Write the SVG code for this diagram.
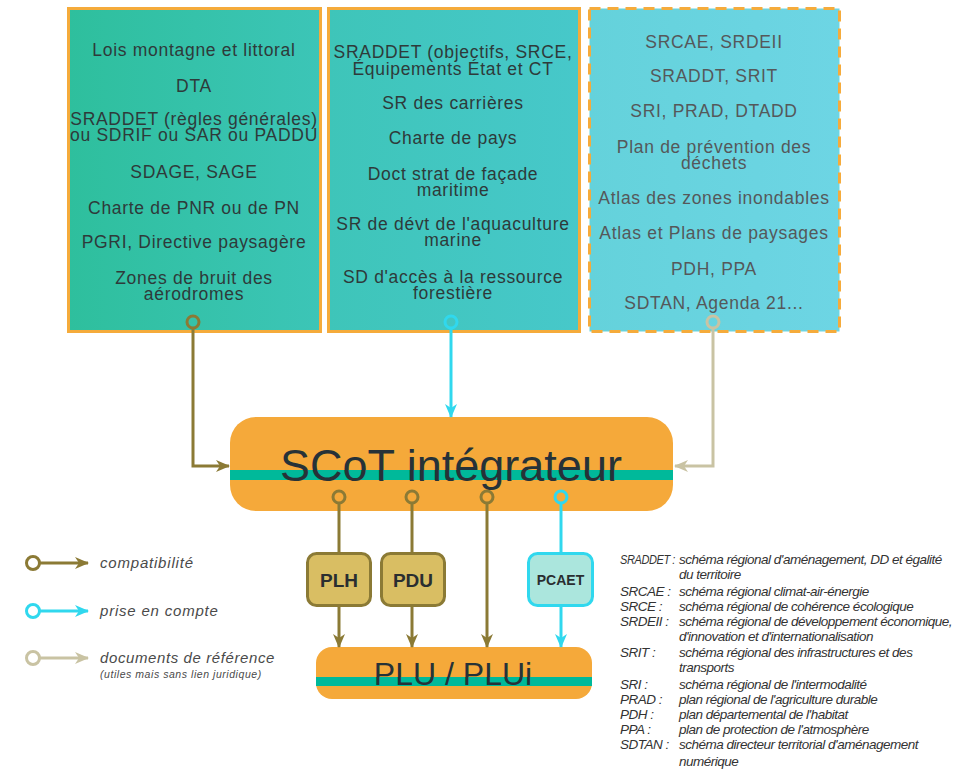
<svg xmlns="http://www.w3.org/2000/svg" width="967" height="777" viewBox="0 0 967 777">
<style>
.bt{font-family:"Liberation Sans",Arial,sans-serif;font-size:17.5px;letter-spacing:0.7px;fill:#2e3a3a;text-anchor:middle}
.bt3{fill:#55585a}
.big{font-family:"Liberation Sans",Arial,sans-serif;fill:#263238;text-anchor:middle}
.sb{font-family:"Liberation Sans",Arial,sans-serif;font-weight:bold;fill:#2a2e30;text-anchor:middle}
.leg{font-family:"Liberation Sans",Arial,sans-serif;font-style:italic;fill:#4a4a4a}
.ab{font-family:"Liberation Sans",Arial,sans-serif;font-style:italic;font-size:13.5px;fill:#333;letter-spacing:-0.5px}
.ol{stroke:#8b7a35}
.cy{stroke:#30d8ee}
.be{stroke:#c9c3a3}
.c{fill:none;stroke-width:3}
.ln{fill:none;stroke-width:3}
</style>
<defs>
<linearGradient id="g1" x1="0" y1="0" x2="1" y2="0"><stop offset="0" stop-color="#2ebf9d"/><stop offset="1" stop-color="#3cc5b7"/></linearGradient>
<linearGradient id="g2" x1="0" y1="0" x2="1" y2="0"><stop offset="0" stop-color="#3ec5b9"/><stop offset="1" stop-color="#47c8ca"/></linearGradient>
<linearGradient id="g3" x1="0" y1="0" x2="1" y2="0"><stop offset="0" stop-color="#64d2db"/><stop offset="1" stop-color="#6dd5e4"/></linearGradient>
<marker id="aO" viewBox="0 0 14 12" refX="13" refY="6" markerWidth="14" markerHeight="12" markerUnits="userSpaceOnUse" orient="auto"><path d="M0,0 L14,6 L0,12 L4,6 Z" fill="#8b7a35"/></marker>
<marker id="aC" viewBox="0 0 14 12" refX="13" refY="6" markerWidth="14" markerHeight="12" markerUnits="userSpaceOnUse" orient="auto"><path d="M0,0 L14,6 L0,12 L4,6 Z" fill="#30d8ee"/></marker>
<marker id="aB" viewBox="0 0 14 12" refX="13" refY="6" markerWidth="14" markerHeight="12" markerUnits="userSpaceOnUse" orient="auto"><path d="M0,0 L14,6 L0,12 L4,6 Z" fill="#c9c3a3"/></marker>
</defs>
<rect width="967" height="777" fill="#ffffff"/>

<g id="box-compatibilite">
<rect x="68.5" y="8.5" width="252" height="323" fill="url(#g1)" stroke="#f5ab3b" stroke-width="3"/>
<text class="bt" x="194" y="56">Lois montagne et littoral</text>
<text class="bt" x="194" y="92">DTA</text>
<text class="bt" x="194" y="125">SRADDET (règles générales)<tspan x="194" dy="16">ou SDRIF ou SAR ou PADDU</tspan></text>
<text class="bt" x="194" y="178">SDAGE, SAGE</text>
<text class="bt" x="194" y="214">Charte de PNR ou de PN</text>
<text class="bt" x="194" y="248">PGRI, Directive paysagère</text>
<text class="bt" x="194" y="284">Zones de bruit des<tspan x="194" dy="16">aérodromes</tspan></text>
</g>

<g id="box-prise-en-compte">
<rect x="328.5" y="8.5" width="251" height="323" fill="url(#g2)" stroke="#f5ab3b" stroke-width="3"/>
<text class="bt" x="453" y="58">SRADDET (objectifs, SRCE,<tspan x="453" dy="17">Équipements État et CT</tspan></text>
<text class="bt" x="453" y="109">SR des carrières</text>
<text class="bt" x="453" y="144">Charte de pays</text>
<text class="bt" x="453" y="180">Doct strat de façade<tspan x="453" dy="16">maritime</tspan></text>
<text class="bt" x="453" y="230">SR de dévt de l'aquaculture<tspan x="453" dy="16">marine</tspan></text>
<text class="bt" x="453" y="283">SD d'accès à la ressource<tspan x="453" dy="16">forestière</tspan></text>
</g>

<g id="box-reference">
<rect x="589.5" y="8.5" width="250" height="323" fill="url(#g3)" stroke="#f5ab3b" stroke-width="3" stroke-dasharray="11 7"/>
<text class="bt bt3" x="714" y="48">SRCAE, SRDEII</text>
<text class="bt bt3" x="714" y="82">SRADDT, SRIT</text>
<text class="bt bt3" x="714" y="117">SRI, PRAD, DTADD</text>
<text class="bt bt3" x="714" y="153">Plan de prévention des<tspan x="714" dy="16">déchets</tspan></text>
<text class="bt bt3" x="714" y="204">Atlas des zones inondables</text>
<text class="bt bt3" x="714" y="239">Atlas et Plans de paysages</text>
<text class="bt bt3" x="714" y="275">PDH, PPA</text>
<text class="bt bt3" x="714" y="309">SDTAN, Agenda 21...</text>
</g>

<g id="scot">
<rect x="230" y="417" width="443" height="94" rx="26" fill="#f5a93a"/>
<rect x="230" y="470" width="443" height="10" fill="#00b99a"/>
<text class="big" x="451" y="481" font-size="45">SCoT intégrateur</text>
</g>

<g id="plh">
<rect x="307.5" y="553.5" width="63" height="52" rx="9" fill="#d9be63" stroke="#8b7a35" stroke-width="3"/>
<text class="sb" x="339" y="587" font-size="19">PLH</text>
</g>
<g id="pdu">
<rect x="381.5" y="553.5" width="63" height="52" rx="9" fill="#d9be63" stroke="#8b7a35" stroke-width="3"/>
<text class="sb" x="413" y="587" font-size="19">PDU</text>
</g>
<g id="pcaet">
<rect x="528.5" y="553.5" width="64" height="52" rx="9" fill="#abe6dd" stroke="#30d8ee" stroke-width="3"/>
<text class="sb" x="560.5" y="585" font-size="14">PCAET</text>
</g>

<g id="plu">
<rect x="316" y="647" width="276" height="52" rx="16" fill="#f5a93a"/>
<rect x="316" y="677" width="276" height="9" fill="#00b99a"/>
<text class="big" x="453" y="685" font-size="32">PLU / PLUi</text>
</g>

<g id="connectors">
<circle class="c ol" cx="193" cy="322" r="6"/>
<path class="ln ol" d="M193,328 V466 H229" marker-end="url(#aO)"/>
<circle class="c cy" cx="451" cy="322" r="6"/>
<path class="ln cy" d="M451,328 V417" marker-end="url(#aC)"/>
<circle class="c be" cx="713" cy="322" r="6"/>
<path class="ln be" d="M713,328 V466 H675" marker-end="url(#aB)"/>

<circle class="c ol" cx="339" cy="497" r="6"/>
<path class="ln ol" d="M339,503 V552"/>
<path class="ln ol" d="M339,607 V647" marker-end="url(#aO)"/>
<circle class="c ol" cx="412" cy="497" r="6"/>
<path class="ln ol" d="M412,503 V552"/>
<path class="ln ol" d="M412,607 V647" marker-end="url(#aO)"/>
<circle class="c ol" cx="487" cy="497" r="6"/>
<path class="ln ol" d="M487,503 V647" marker-end="url(#aO)"/>
<circle class="c cy" cx="561" cy="497" r="6"/>
<path class="ln cy" d="M561,503 V552"/>
<path class="ln cy" d="M561,607 V647" marker-end="url(#aC)"/>
</g>

<g id="legend">
<circle class="c ol" cx="33" cy="563" r="6.5"/>
<path class="ln ol" d="M40,563 H88" marker-end="url(#aO)"/>
<text class="leg" x="100" y="568" font-size="15" letter-spacing="0.8">compatibilité</text>
<circle class="c cy" cx="33" cy="611" r="6.5"/>
<path class="ln cy" d="M40,611 H88" marker-end="url(#aC)"/>
<text class="leg" x="100" y="616" font-size="15" letter-spacing="0.8">prise en compte</text>
<circle class="c be" cx="33" cy="658" r="6.5"/>
<path class="ln be" d="M40,658 H88" marker-end="url(#aB)"/>
<text class="leg" x="100" y="663" font-size="15" letter-spacing="0.6">documents de référence</text>
<text class="leg" x="100" y="678" font-size="10.5" letter-spacing="0.55">(utiles mais sans lien juridique)</text>
</g>

<g id="abbreviations">
<text class="ab" x="620" y="564" textLength="55" lengthAdjust="spacingAndGlyphs">SRADDET :</text>
<text class="ab" x="679" y="564">schéma régional d'aménagement, DD et égalité</text>
<text class="ab" x="679" y="579">du territoire</text>
<text class="ab" x="620" y="596">SRCAE :</text>
<text class="ab" x="679" y="596">schéma régional climat-air-énergie</text>
<text class="ab" x="620" y="611">SRCE :</text>
<text class="ab" x="679" y="611">schéma régional de cohérence écologique</text>
<text class="ab" x="620" y="626">SRDEII :</text>
<text class="ab" x="679" y="626">schéma régional de développement économique,</text>
<text class="ab" x="679" y="641">d'innovation et d'internationalisation</text>
<text class="ab" x="620" y="657">SRIT :</text>
<text class="ab" x="679" y="657">schéma régional des infrastructures et des</text>
<text class="ab" x="679" y="672">transports</text>
<text class="ab" x="620" y="689">SRI :</text>
<text class="ab" x="679" y="689">schéma régional de l'intermodalité</text>
<text class="ab" x="620" y="704">PRAD :</text>
<text class="ab" x="679" y="704">plan régional de l'agriculture durable</text>
<text class="ab" x="620" y="719">PDH :</text>
<text class="ab" x="679" y="719">plan départemental de l'habitat</text>
<text class="ab" x="620" y="734">PPA :</text>
<text class="ab" x="679" y="734">plan de protection de l'atmosphère</text>
<text class="ab" x="620" y="749">SDTAN :</text>
<text class="ab" x="679" y="749">schéma directeur territorial d'aménagement</text>
<text class="ab" x="679" y="766">numérique</text>
</g>
</svg>
